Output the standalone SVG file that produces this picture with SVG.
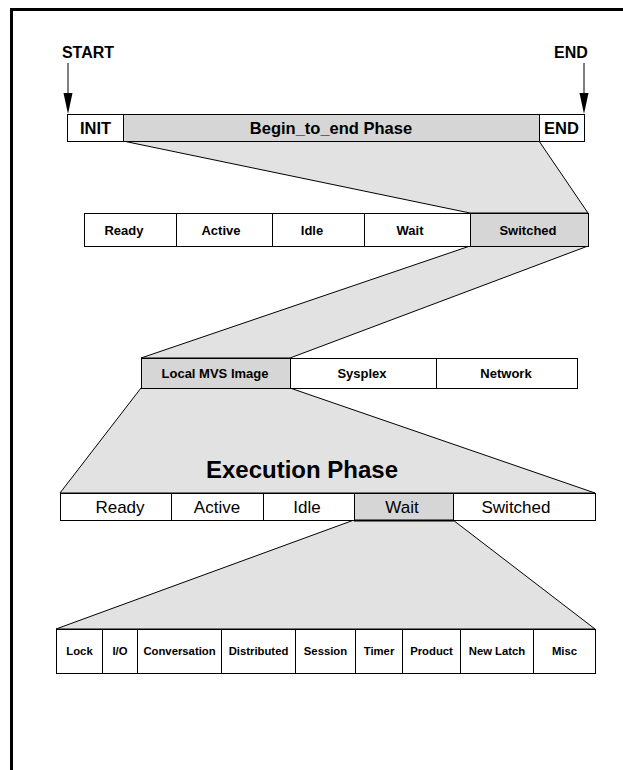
<svg xmlns="http://www.w3.org/2000/svg" width="623" height="770" viewBox="0 0 623 770">
<style>
text{font-family:"Liberation Sans",Arial,sans-serif;fill:#000;text-anchor:middle}
.b{font-weight:bold}
.box{fill:#fff;stroke:#000;stroke-width:1}
.hi{fill:#d6d6d6;stroke:#000;stroke-width:1}
.trap{fill:#e2e2e2;stroke:#000;stroke-width:1}
.t1{font-size:16.5px;font-weight:bold}
.t2{font-size:13px;font-weight:bold}
.t4{font-size:17px}
.t5{font-size:11.3px;font-weight:bold}
.arr{stroke:#000;stroke-width:1;fill:none}
</style>
<rect width="623" height="770" fill="#fff"/>
<path d="M11.5,770 V9.5 H623" fill="none" stroke="#000" stroke-width="3"/>

<g id="expansions">
<polygon class="trap" points="123,141 539,141 588,213 470,213"/>
<polygon class="trap" points="470,246 588,246 290,358 141,358"/>
<polygon class="trap" points="141,388 290,388 595,493 60,493"/>
<polygon class="trap" points="354,520 453,520 595,629 56,629"/>
</g>

<g id="connectors">
<line class="arr" x1="68" y1="63" x2="68" y2="95"/>
<polygon points="63.5,93 72.5,93 68,114" fill="#000"/>
<line class="arr" x1="584" y1="63" x2="584" y2="95"/>
<polygon points="579.5,93 588.5,93 584,114" fill="#000"/>
</g>

<g id="start-label"><text class="b" x="88" y="57.5" font-size="16">START</text></g>
<g id="end-label"><text class="b" x="571" y="57.5" font-size="16">END</text></g>

<g id="row1">
<g id="init"><rect class="box" x="67.5" y="114.5" width="56" height="27"/><text class="t1" x="95.5" y="134">INIT</text></g>
<g id="begin-to-end"><rect class="hi" x="123.5" y="114.5" width="416" height="27"/><text class="t1" x="331" y="134">Begin_to_end Phase</text></g>
<g id="end"><rect class="box" x="539.5" y="114.5" width="45" height="27"/><text class="t1" x="561.5" y="134">END</text></g>
</g>

<g id="row2">
<g id="r2-ready"><rect class="box" x="84.5" y="213.5" width="92" height="33"/><text class="t2" x="124" y="235">Ready</text></g>
<g id="r2-active"><rect class="box" x="176.5" y="213.5" width="96" height="33"/><text class="t2" x="221" y="235">Active</text></g>
<g id="r2-idle"><rect class="box" x="272.5" y="213.5" width="92" height="33"/><text class="t2" x="312" y="235">Idle</text></g>
<g id="r2-wait"><rect class="box" x="364.5" y="213.5" width="106" height="33"/><text class="t2" x="410" y="235">Wait</text></g>
<g id="r2-switched"><rect class="hi" x="470.5" y="213.5" width="118" height="33"/><text class="t2" x="528" y="235">Switched</text></g>
</g>

<g id="row3">
<g id="local-mvs"><rect class="hi" x="141.5" y="358.5" width="149" height="30"/><text class="t2" x="215" y="378">Local MVS Image</text></g>
<g id="sysplex"><rect class="box" x="290.5" y="358.5" width="146" height="30"/><text class="t2" x="362" y="378">Sysplex</text></g>
<g id="network"><rect class="box" x="436.5" y="358.5" width="141" height="30"/><text class="t2" x="506" y="378">Network</text></g>
</g>

<g id="execution-phase-title"><text class="b" x="302" y="478" font-size="24px">Execution Phase</text></g>

<g id="row4">
<g id="r4-ready"><rect class="box" x="60.5" y="493.5" width="111" height="27"/><text class="t4" x="120" y="512.5">Ready</text></g>
<g id="r4-active"><rect class="box" x="171.5" y="493.5" width="92" height="27"/><text class="t4" x="217" y="512.5">Active</text></g>
<g id="r4-idle"><rect class="box" x="263.5" y="493.5" width="91" height="27"/><text class="t4" x="307" y="512.5">Idle</text></g>
<g id="r4-wait"><rect class="hi" x="354.5" y="493.5" width="99" height="27"/><line x1="354" y1="520.5" x2="454" y2="520.5" stroke="#000" stroke-width="2"/><text class="t4" x="402" y="512.5">Wait</text></g>
<g id="r4-switched"><rect class="box" x="453.5" y="493.5" width="142" height="27"/><text class="t4" x="516" y="512.5">Switched</text></g>
</g>

<g id="row5">
<g id="lock"><rect class="box" x="56.5" y="629.5" width="46" height="44"/><text class="t5" x="79.5" y="655">Lock</text></g>
<g id="io"><rect class="box" x="102.5" y="629.5" width="35" height="44"/><text class="t5" x="120" y="655">I/O</text></g>
<g id="conversation"><rect class="box" x="137.5" y="629.5" width="84" height="44"/><text class="t5" x="179.5" y="655">Conversation</text></g>
<g id="distributed"><rect class="box" x="221.5" y="629.5" width="74" height="44"/><text class="t5" x="258.5" y="655">Distributed</text></g>
<g id="session"><rect class="box" x="295.5" y="629.5" width="60" height="44"/><text class="t5" x="325.5" y="655">Session</text></g>
<g id="timer"><rect class="box" x="355.5" y="629.5" width="47" height="44"/><text class="t5" x="379" y="655">Timer</text></g>
<g id="product"><rect class="box" x="402.5" y="629.5" width="58" height="44"/><text class="t5" x="431.5" y="655">Product</text></g>
<g id="new-latch"><rect class="box" x="460.5" y="629.5" width="73" height="44"/><text class="t5" x="497" y="655">New Latch</text></g>
<g id="misc"><rect class="box" x="533.5" y="629.5" width="62" height="44"/><text class="t5" x="564.5" y="655">Misc</text></g>
</g>
</svg>
